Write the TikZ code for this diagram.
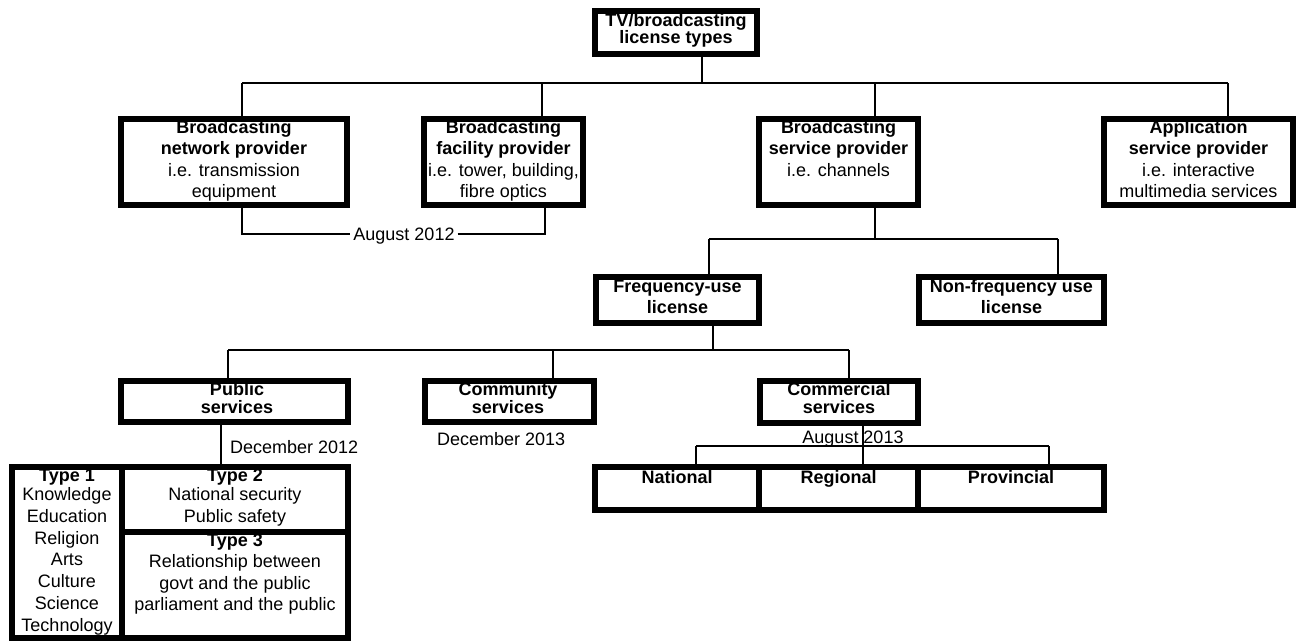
\documentclass[tikz,border=0pt]{standalone}
\usepackage{fontspec}
\setmainfont{Liberation Sans}
\newcommand\Ftop{\rule{0pt}{14pt}}
\tikzset{
  box/.style={draw=black, line width=6pt, inner sep=0pt},
  tx/.style={inner sep=0pt, align=center, anchor=north, font=\fontsize{18}{21.5}\selectfont},
  lab/.style={inner sep=0pt, font=\fontsize{18}{21.5}\selectfont},
  con/.style={line width=1.3pt, draw=black},
}
\begin{document}
\begin{tikzpicture}[x=1pt,y=-1pt]
\fill[white] (0,0) rectangle (1303,641);
\useasboundingbox (0,0) rectangle (1303,641);

% boxes
\node[box, minimum width=162pt, minimum height=43pt] (tp) at (676,32.5) {};
\node[box, minimum width=226pt, minimum height=86pt] (b1) at (234,162) {};
\node[box, minimum width=159pt, minimum height=86pt] (b2) at (503.5,162) {};
\node[box, minimum width=159pt, minimum height=86pt] (b3) at (838.5,162) {};
\node[box, minimum width=189pt, minimum height=86pt] (b4) at (1198.5,162) {};
\node[box, minimum width=163pt, minimum height=46pt] (fq) at (677.5,300) {};
\node[box, minimum width=185pt, minimum height=46pt] (nf) at (1011.5,300) {};
\node[box, minimum width=227pt, minimum height=41pt] (pu) at (234.5,401.5) {};
\node[box, minimum width=169pt, minimum height=41pt] (co) at (509.5,401.5) {};
\node[box, minimum width=158pt, minimum height=42pt] (cm) at (839,402) {};
\node[box, minimum width=164pt, minimum height=43pt] (na) at (677,488.5) {};
\node[box, minimum width=159pt, minimum height=43pt] (re) at (838.5,488.5) {};
\node[box, minimum width=186pt, minimum height=43pt] (pr) at (1011,488.5) {};
\node[box, minimum width=110pt, minimum height=171pt] (t1) at (67,552.5) {};
\node[box, minimum width=226pt, minimum height=65pt] (t2) at (235,499.5) {};
\node[box, minimum width=226pt, minimum height=106pt] (t3) at (235,585) {};

% texts
\node[tx, font=\fontsize{18}{17.5}\selectfont] (tpt) at (676,12) {\Ftop\textbf{TV/broadcasting}\\\textbf{license types}};
\node[tx] (b1t) at (234,119) {\Ftop\textbf{Broadcasting}\\\textbf{network provider}\\i.e. transmission\\equipment};
\node[tx] (b2t) at (503.5,119) {\Ftop\textbf{Broadcasting}\\\textbf{facility provider}\\i.e. tower, building,\\fibre optics};
\node[tx] (b3t) at (838.5,119) {\Ftop\textbf{Broadcasting}\\\textbf{service provider}\\i.e. channels};
\node[tx] (b4t) at (1198.5,119) {\Ftop\textbf{Application}\\\textbf{service provider}\\i.e. interactive\\multimedia services};
\node[tx] (fqt) at (677.5,278) {\Ftop\textbf{Frequency-use}\\\textbf{license}};
\node[tx] (nft) at (1011.5,278) {\Ftop\textbf{Non-frequency use}\\\textbf{license}};
\node[tx, font=\fontsize{18}{18}\selectfont] (put) at (237,381) {\Ftop\textbf{Public}\\\textbf{services}};
\node[tx, font=\fontsize{18}{18}\selectfont] (cot) at (508,381) {\Ftop\textbf{Community}\\\textbf{services}};
\node[tx, font=\fontsize{18}{18}\selectfont] (cmt) at (839,381) {\Ftop\textbf{Commercial}\\\textbf{services}};
\node[lab, anchor=base] (nat) at (677,483) {\textbf{National}};
\node[lab, anchor=base] (ret) at (838.5,483) {\textbf{Regional}};
\node[lab, anchor=base] (prt) at (1011,483) {\textbf{Provincial}};
\node[tx, font=\fontsize{18}{21.8}\selectfont] (t1t) at (67,467) {\Ftop\textbf{Type 1}\\[-2.5pt]Knowledge\\Education\\Religion\\Arts\\Culture\\Science\\Technology};
\node[tx, font=\fontsize{18}{21.8}\selectfont] (t2t) at (235,467) {\Ftop\textbf{Type 2}\\[-2.5pt]National security\\Public safety};
\node[tx] (t3t) at (235,532) {\Ftop\textbf{Type 3}\\Relationship between\\govt and the public\\parliament and the public};

% date labels
\node[lab, anchor=base, inner xsep=3pt] (aug12) at (404,240) {August 2012};
\node[lab, anchor=base west] (dec12) at (230,453) {December 2012};
\node[lab, anchor=base west] (dec13) at (437,445) {December 2013};
\node[lab, anchor=base] (aug13) at (853,443) {August 2013};

% connector junctions
\coordinate (j0) at (702,83);
\coordinate (d1) at (242,83);
\coordinate (d2) at (542,83);
\coordinate (d3) at (875,83);
\coordinate (d4) at (1228,83);
\coordinate (a1) at (242,234);
\coordinate (a2) at (545,234);
\coordinate (j1) at (875,239);
\coordinate (f1) at (709,239);
\coordinate (f2) at (1058,239);
\coordinate (j2) at (713,350);
\coordinate (p1) at (228,350);
\coordinate (p2) at (553,350);
\coordinate (p3) at (849,350);
\coordinate (s1) at (221,0);
\coordinate (j3) at (863,446);
\coordinate (n1) at (696,446);
\coordinate (n3) at (1049,446);

% connectors
\draw[con] (j0 |- tp.south) -- (j0);
\draw[con] (d1) -- (d4);
\draw[con] (d1) -- (d1 |- b1.north);
\draw[con] (d2) -- (d2 |- b2.north);
\draw[con] (d3) -- (d3 |- b3.north);
\draw[con] (d4) -- (d4 |- b4.north);
\draw[con] (a1 |- b1.south) -- (a1) -- (aug12.west |- a1);
\draw[con] (aug12.east |- a2) -- (a2) -- (a2 |- b2.south);
\draw[con] (j1 |- b3.south) -- (j1);
\draw[con] (f1) -- (f2);
\draw[con] (f1) -- (f1 |- fq.north);
\draw[con] (f2) -- (f2 |- nf.north);
\draw[con] (j2 |- fq.south) -- (j2);
\draw[con] (p1) -- (p3);
\draw[con] (p1) -- (p1 |- pu.north);
\draw[con] (p2) -- (p2 |- co.north);
\draw[con] (p3) -- (p3 |- cm.north);
\draw[con] (s1 |- pu.south) -- (s1 |- t2.north);
\draw[con] (j3 |- cm.south) -- (j3 |- re.north);
\draw[con] (n1) -- (n3);
\draw[con] (n1) -- (n1 |- na.north);
\draw[con] (n3) -- (n3 |- pr.north);
\end{tikzpicture}
\end{document}
